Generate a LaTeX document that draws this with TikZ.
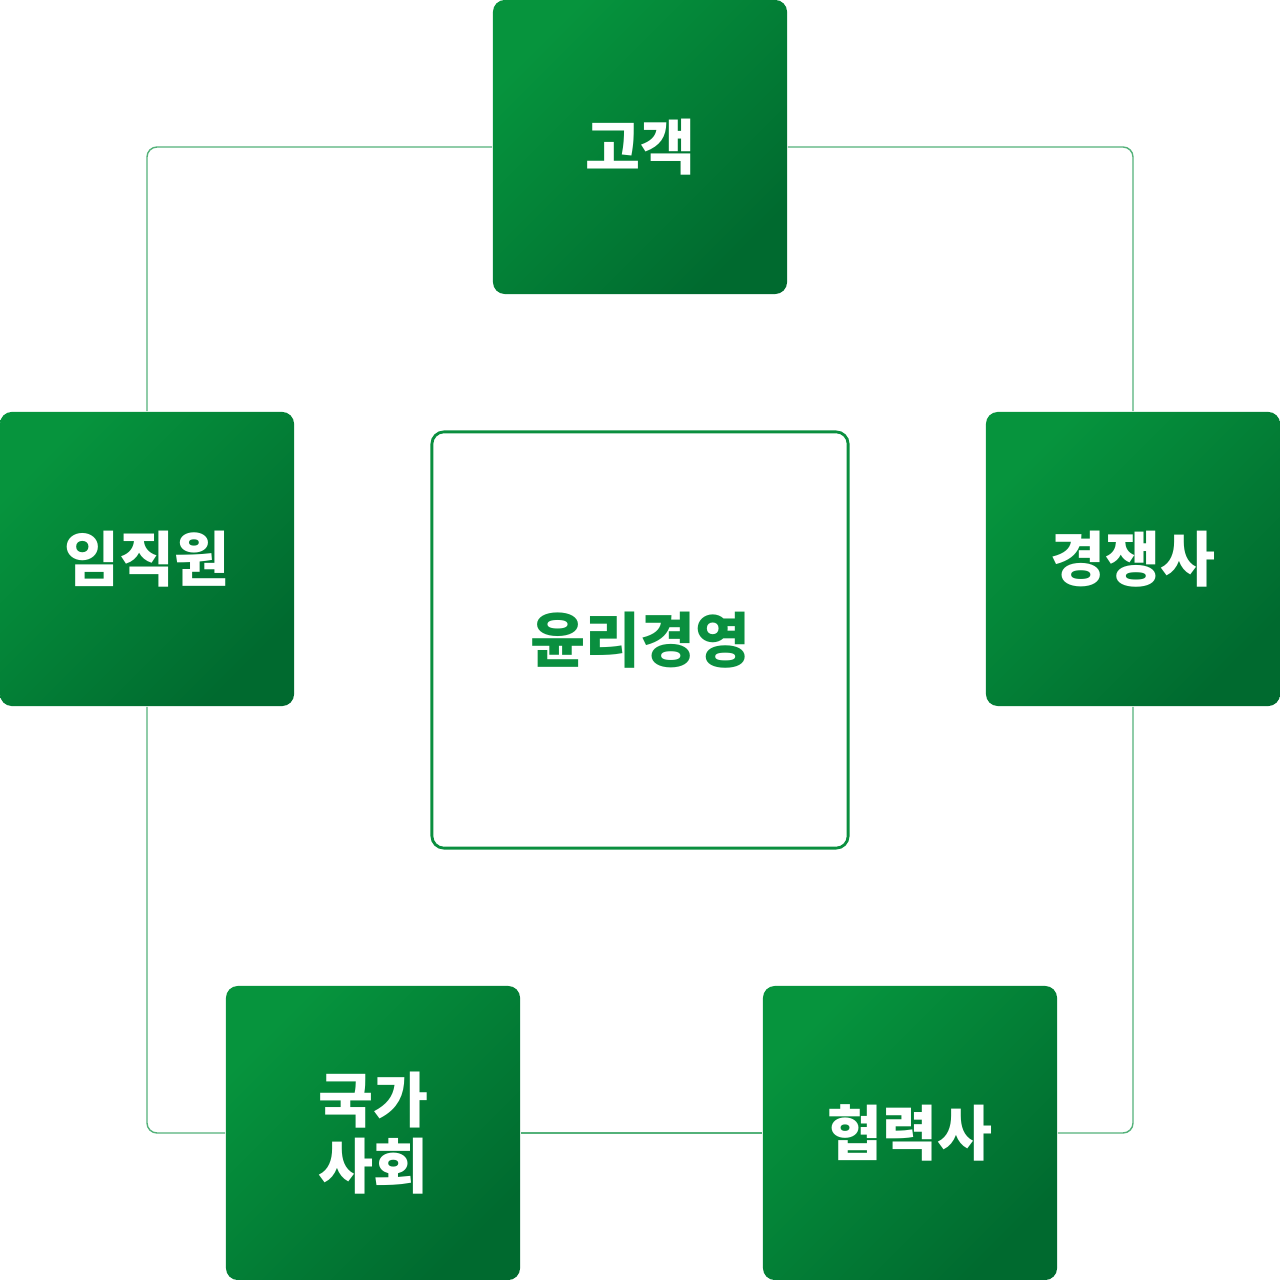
\documentclass[tikz,border=0pt]{standalone}
\usepackage{fontspec}
\newfontfamily\kr{Noto Sans CJK KR}
\definecolor{gl}{HTML}{06943D}
\definecolor{gd}{HTML}{006A2F}
\definecolor{gt}{HTML}{0A8F3F}
\tikzset{
  gbox/.style={minimum width=2.94cm,minimum height=2.94cm,rounded corners=0.12cm,
    top color=gl,bottom color=gd,shading angle=45,
    text=white,font=\kr\bfseries\fontsize{17}{21}\selectfont,align=center,inner sep=0pt},
  frame/.style={draw=gt!70,line width=0.4pt,rounded corners=0.1cm}
}
\begin{document}
\begin{tikzpicture}[x=0.01cm,y=-0.01cm]
\useasboundingbox (0,0) rectangle (1280,1280);
\node[gbox] (cust) at (640,147) {고객};
\node[gbox] (emp) at (147,559) {임직원};
\node[gbox] (comp) at (1133,559) {경쟁사};
\node[gbox] (nat) at (373,1133) {국가\\[-2pt]사회};
\node[gbox] (part) at (910,1133) {협력사};
\node[draw=gt,line width=0.8pt,rounded corners=0.12cm,minimum width=4.16cm,minimum height=4.16cm,
  text=gt,font=\kr\bfseries\fontsize{17}{21}\selectfont] (core) at (640,640) {윤리경영};
\draw[frame] (emp.north) |- (cust.west);
\draw[frame] (cust.east) -| (comp.north);
\draw[frame] (comp.south) |- (part.east);
\draw[frame] (part.west) -- (nat.east);
\draw[frame] (nat.west) -| (emp.south);
\end{tikzpicture}
\end{document}
